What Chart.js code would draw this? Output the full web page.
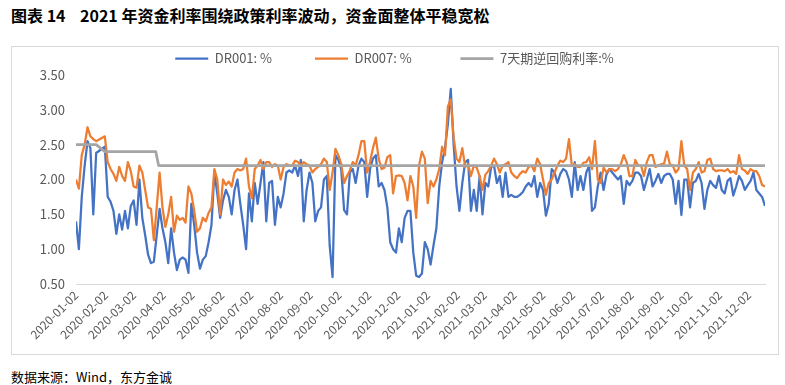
<!DOCTYPE html>
<html>
<head>
<meta charset="utf-8">
<script src="https://cdn.jsdelivr.net/npm/chart.js@4.4.0/dist/chart.umd.min.js"></script>
<style>
  body { margin:0; background:#fff; font-family:"Noto Sans CJK SC", sans-serif; }
  #title { position:absolute; left:11px; top:3px; font-size:16px; font-weight:bold; color:#000; white-space:pre; }
  #box { position:absolute; left:11px; top:46px; width:768px; height:309px; box-sizing:border-box; border:1px solid #d9d9d9; }
  #chart { position:absolute; left:0; top:0; }
  #source { position:absolute; left:11px; top:367px; font-size:13px; color:#000; }
</style>
</head>
<body>
<div id="title">图表 14    2021 年资金利率围绕政策利率波动，资金面整体平稳宽松</div>
<div id="box"><canvas id="chart" width="766" height="307" style="width:766px;height:307px"></canvas></div>
<div id="source">数据来源：Wind，东方金诚</div>
<script>
var startDate = "2020-01-02";
var endDate = "2021-12-19";
var sampleStep = 3; // days between samples

var tickLabels = ["2020-01-02","2020-02-02","2020-03-02","2020-04-02","2020-05-02","2020-06-02",
  "2020-07-02","2020-08-02","2020-09-02","2020-10-02","2020-11-02","2020-12-02",
  "2021-01-02","2021-02-02","2021-03-02","2021-04-02","2021-05-02","2021-06-02",
  "2021-07-02","2021-08-02","2021-09-02","2021-10-02","2021-11-02","2021-12-02"];

// DR001, one value every 3 days (null = spring festival holiday)
var dr001 = [
  1.40,1.00,1.75,2.20,2.55,2.45,1.50,2.38,null,null,
  2.47,1.75,1.68,1.55,1.22,1.50,1.28,1.55,1.30,1.62,
  1.70,1.35,2.00,1.45,1.20,0.92,0.80,0.82,1.20,1.58,
  1.30,1.10,0.80,1.30,0.95,0.70,0.85,0.88,0.85,0.66,
  1.65,1.35,0.95,0.72,0.85,0.90,1.10,1.35,2.10,1.80,
  1.45,1.70,1.85,1.75,1.50,1.85,2.00,1.65,1.35,1.00,
  1.80,1.40,1.95,1.65,1.95,2.25,1.40,1.95,1.98,1.35,
  1.75,1.60,1.80,2.10,2.13,2.10,2.20,2.05,2.28,1.40,
  1.85,2.10,1.95,1.40,1.55,1.60,2.00,2.05,1.05,0.60,
  2.35,2.28,2.15,1.56,1.50,2.10,2.15,1.95,2.20,2.30,
  2.25,1.75,2.15,2.30,2.35,1.90,1.95,1.85,1.60,1.10,
  1.00,0.95,1.30,1.10,1.45,1.55,1.55,0.95,0.62,0.60,
  0.65,1.10,1.00,0.78,1.05,1.30,1.90,2.25,2.45,2.80,
  3.30,2.50,1.90,1.55,1.95,2.25,2.28,1.55,1.85,1.55,
  2.05,1.50,1.95,1.90,2.18,2.20,1.95,2.05,1.75,2.10,
  1.75,1.78,1.75,1.75,1.78,1.82,1.90,1.95,1.90,2.05,
  1.75,1.95,1.85,1.48,1.65,2.15,2.10,1.95,2.08,2.15,
  2.12,2.00,1.75,2.25,1.85,2.05,1.85,2.10,2.20,1.55,
  1.60,1.90,2.10,1.85,2.07,2.15,2.10,2.05,2.00,2.05,
  1.65,1.98,1.92,1.98,2.10,2.10,2.05,1.85,2.00,2.15,
  1.90,1.98,2.08,1.95,2.05,2.08,2.08,2.00,1.65,1.98,
  1.49,2.00,2.00,1.60,1.95,1.98,2.08,1.95,1.58,1.85,
  1.98,1.92,1.88,2.05,1.85,1.80,1.98,2.02,1.77,1.90,
  2.05,1.98,1.85,1.92,1.98,2.10,1.85,1.80,1.75,1.62
];

// DR007, same sampling
var dr007 = [
  2.00,1.87,2.35,2.50,2.75,2.62,2.58,2.55,null,null,
  2.62,2.25,2.15,2.08,1.98,2.18,2.05,1.98,2.25,2.12,
  1.90,1.88,2.20,2.10,1.85,1.60,1.58,1.13,1.60,2.10,
  1.60,1.32,1.50,1.75,1.25,1.48,1.42,1.45,1.38,1.90,
  1.80,1.55,1.25,1.30,1.45,1.40,1.52,1.60,2.15,2.00,
  1.50,2.00,1.92,1.97,1.90,2.10,2.15,2.13,2.15,2.30,
  1.90,1.73,2.15,2.20,2.28,2.15,2.25,2.25,2.18,2.22,
  2.20,2.00,2.18,2.22,2.20,2.20,2.27,2.25,2.20,2.25,
  2.22,2.20,2.10,2.15,2.18,2.22,2.30,2.25,1.85,2.10,
  2.44,2.35,2.22,1.95,2.05,2.13,2.25,2.20,2.35,2.55,
  2.55,2.10,2.25,2.45,2.60,2.30,2.15,2.17,2.32,2.35,
  1.80,2.05,2.06,2.05,1.95,1.70,2.05,1.90,1.45,2.20,
  2.40,2.30,1.66,1.98,1.90,2.00,2.15,2.47,2.35,3.05,
  3.15,2.60,2.30,2.25,2.45,2.18,2.22,2.05,2.20,2.17,
  2.05,1.85,2.07,2.12,2.20,2.30,2.22,2.10,2.20,2.22,
  2.25,2.10,2.05,2.02,2.08,2.12,2.10,2.18,2.20,2.12,
  2.30,2.22,2.00,1.78,1.95,2.00,2.10,2.20,2.27,2.25,
  2.30,2.58,2.20,2.22,2.18,2.18,2.24,2.25,2.32,2.15,
  2.55,2.00,1.95,2.17,2.10,2.15,2.15,2.12,2.15,2.22,
  2.35,2.25,2.05,2.05,2.28,2.20,2.20,2.05,2.25,2.35,
  2.35,2.18,2.20,2.22,2.23,2.40,2.22,2.20,2.10,2.15,
  2.55,2.20,2.15,1.85,2.10,2.15,2.25,2.10,2.12,2.28,
  2.30,2.15,2.12,2.13,2.13,2.12,2.15,2.10,2.12,2.08,
  2.35,2.15,2.13,2.08,2.15,2.12,2.12,2.05,1.92,1.90
];

// 7-day reverse repo rate, step changes
var repoDates = ["2020-01-02","2020-01-23","2020-02-01","2020-03-25","2020-03-28","2021-12-19"];
var repoRate = [2.50, 2.50, 2.40, 2.40, 2.20, 2.20];

function dayOf(s) {
  var p = s.split("-"), q = startDate.split("-");
  return (Date.UTC(+p[0], p[1]-1, +p[2]) - Date.UTC(+q[0], q[1]-1, +q[2])) / 864e5;
}
function series(vals) {
  return vals.map(function(v, i) { return {x: i*sampleStep, y: v}; });
}
var tickDays = tickLabels.map(dayOf);
var repoPoints = repoDates.map(function(d, i) { return {x: dayOf(d), y: repoRate[i]}; });

Chart.defaults.font.family = "'Noto Sans CJK SC', sans-serif";

var legendGap = ["             ", "               ", ""];

new Chart(document.getElementById("chart"), {
  type: "line",
  data: {
    datasets: [
      {label: "DR001: %", data: series(dr001), borderColor: "#4472C4", backgroundColor: "#4472C4", borderWidth: 2.25, order: 2},
      {label: "DR007: %", data: series(dr007), borderColor: "#ED7D31", backgroundColor: "#ED7D31", borderWidth: 2.25, order: 1},
      {label: "7天期逆回购利率:%", data: repoPoints, borderColor: "#A5A5A5", backgroundColor: "#A5A5A5", borderWidth: 2.75, order: 0}
    ]
  },
  options: {
    responsive: false,
    animation: false,
    spanGaps: true,
    layout: {padding: {top: 0, left: 12, right: 13, bottom: 0}},
    elements: {point: {radius: 0}, line: {tension: 0, borderJoinStyle: "round"}},
    plugins: {
      tooltip: {enabled: false},
      legend: {
        position: "top",
        labels: {
          usePointStyle: true,
          pointStyle: "line",
          pointStyleWidth: 33,
          padding: 5,
          color: "#595959",
          font: {size: 13},
          sort: function(a, b) { return a.datasetIndex - b.datasetIndex; },
          generateLabels: function(chart) {
            var items = Chart.defaults.plugins.legend.labels.generateLabels(chart);
            items.forEach(function(it) { it.text = it.text + legendGap[it.datasetIndex]; });
            return items;
          }
        }
      }
    },
    scales: {
      x: {
        type: "linear",
        min: 0,
        max: dayOf(endDate),
        afterBuildTicks: function(s) { s.ticks = tickDays.map(function(v) { return {value: v}; }); },
        afterFit: function(s) { s.height = 70; },
        grid: {display: false, drawTicks: false},
        border: {display: true, color: "#d9d9d9", width: 1},
        ticks: {
          autoSkip: false, maxRotation: 45, minRotation: 45, padding: 4,
          color: "#595959", font: {size: 12},
          callback: function(v) { var k = tickDays.indexOf(v); return k >= 0 ? tickLabels[k] : ""; }
        }
      },
      y: {
        min: 0.5,
        max: 3.5,
        afterFit: function(s) { s.width = 52; },
        grid: {display: false, drawTicks: false},
        border: {display: false},
        ticks: {
          stepSize: 0.5, padding: 11, color: "#595959", font: {size: 13},
          callback: function(v) { return v.toFixed(2); }
        }
      }
    }
  }
});
</script>
</body>
</html>
